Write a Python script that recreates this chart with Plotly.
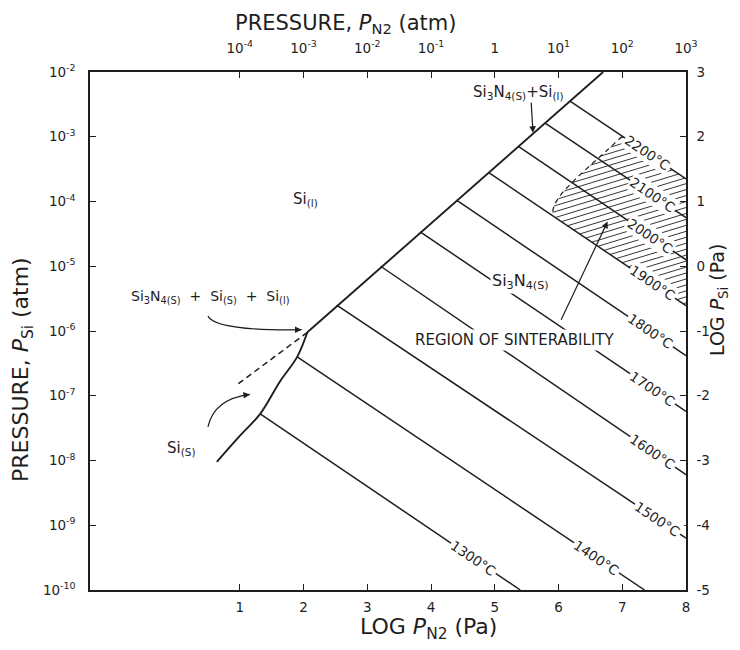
import numpy as np
import plotly.graph_objects as go

# ---------------- data ----------------
# x = log P_N2 (Pa), y = log P_Si (Pa)
iso_temps = [1300, 1400, 1500, 1600, 1700, 1800, 1900, 2000, 2100, 2200]
iso_x0 = [1.32, 1.90, 2.52, 3.21, 3.83, 4.40, 4.90, 5.37, 5.79, 6.18]
iso_y0 = [-2.28, -1.40, -0.60, 0.00, 0.53, 1.02, 1.45, 1.85, 2.21, 2.55]
iso_x1 = [5.40, 7.35, 8.00, 8.00, 8.00, 8.00, 8.00, 8.00, 8.00, 8.00]
iso_y1 = [-5.00, -5.00, -4.20, -3.22, -2.24, -1.38, -0.61, 0.10, 0.75, 1.35]

# Si(s) / Si3N4(s) boundary
si_solid_x = [0.64, 1.00, 1.32, 1.63, 1.90, 2.06]
si_solid_y = [-3.02, -2.62, -2.28, -1.78, -1.40, -1.02]
# Si(l) / Si3N4(s) boundary
si_liquid_x = [2.06, 6.70]
si_liquid_y = [-1.02, 3.00]
# metastable extension (dashed)
meta_x = [2.06, 0.97]
meta_y = [-1.02, -1.82]
# left (dashed) border of the region of sinterability
sinter_x = [7.00, 6.75, 6.50, 6.25, 6.05, 5.93, 5.90]
sinter_y = [2.01, 1.78, 1.56, 1.33, 1.12, 0.93, 0.79]

x_ticks = [1, 2, 3, 4, 5, 6, 7, 8]
x_top_text = ["10<sup>-4</sup>", "10<sup>-3</sup>", "10<sup>-2</sup>", "10<sup>-1</sup>",
              "1", "10<sup>1</sup>", "10<sup>2</sup>", "10<sup>3</sup>"]
y_ticks = [-5, -4, -3, -2, -1, 0, 1, 2, 3]
y_left_text = ["10<sup>-10</sup>", "10<sup>-9</sup>", "10<sup>-8</sup>", "10<sup>-7</sup>",
               "10<sup>-6</sup>", "10<sup>-5</sup>", "10<sup>-4</sup>", "10<sup>-3</sup>",
               "10<sup>-2</sup>"]
y_right_text = ["-5", "-4", "-3", "-2", "-1", "0", "1", "2", "3"]

# ---------------- layout geometry ----------------
OFF = 8                      # page body margin of the html page
W, H = 740 - 2 * OFF, 650 - 2 * OFF
PL, PR, PT, PB = 90, 686, 72, 590     # wanted plot box on screen
ML, MR, MT, MB = PL - OFF, W - (PR - OFF), PT - OFF, H - (PB - OFF)
XR = [-1.35, 8.0]
YR = [-5.0, 3.0]
pw, ph = PR - PL, PB - PT
sx = pw / (XR[1] - XR[0])
sy = ph / (YR[1] - YR[0])

FONT = "DejaVu Sans, sans-serif"
INK = "#1e1e1e"

fig = go.Figure()

# isotherms
ix, iy = [], []
for a, b, c, d in zip(iso_x0, iso_y0, iso_x1, iso_y1):
    ix += [a, c, None]
    iy += [b, d, None]
fig.add_trace(go.Scatter(x=ix, y=iy, mode="lines", line=dict(color=INK, width=1.5),
                         hoverinfo="skip", showlegend=False))

# hatch of region of sinterability (polygon: dashed arc, 1900 C line, axis, 2200 C line)
poly = list(zip(sinter_x, sinter_y)) + [(iso_x1[6], iso_y1[6]), (iso_x1[9], iso_y1[9])]
slope = 0.30
hx, hy = [], []
ys = [p[1] - slope * p[0] for p in poly]
c = min(ys) + 0.045
while c < max(ys):
    xs = []
    n = len(poly)
    for i in range(n):
        (x1, y1), (x2, y2) = poly[i], poly[(i + 1) % n]
        f1 = y1 - slope * x1 - c
        f2 = y2 - slope * x2 - c
        if (f1 > 0) != (f2 > 0):
            t = f1 / (f1 - f2)
            xs.append(x1 + t * (x2 - x1))
    xs.sort()
    for k in range(0, len(xs) - 1, 2):
        hx += [xs[k], xs[k + 1], None]
        hy += [slope * xs[k] + c, slope * xs[k + 1] + c, None]
    c += 0.092
fig.add_trace(go.Scatter(x=hx, y=hy, mode="lines", line=dict(color=INK, width=0.9),
                         hoverinfo="skip", showlegend=False))

# phase boundaries
fig.add_trace(go.Scatter(x=si_solid_x, y=si_solid_y, mode="lines",
                         line=dict(color=INK, width=1.9, shape="spline", smoothing=1.0),
                         hoverinfo="skip", showlegend=False))
fig.add_trace(go.Scatter(x=si_liquid_x, y=si_liquid_y, mode="lines",
                         line=dict(color=INK, width=1.9), hoverinfo="skip", showlegend=False))
fig.add_trace(go.Scatter(x=meta_x, y=meta_y, mode="lines",
                         line=dict(color=INK, width=1.5, dash="6px,4px"),
                         hoverinfo="skip", showlegend=False))
fig.add_trace(go.Scatter(x=sinter_x, y=sinter_y, mode="lines",
                         line=dict(color=INK, width=1.2, dash="5px,4px", shape="spline"),
                         hoverinfo="skip", showlegend=False))

# dummy trace for the secondary axes
fig.add_trace(go.Scatter(x=[XR[0]], y=[YR[0]], xaxis="x2", yaxis="y2", mode="markers",
                         marker=dict(opacity=0), hoverinfo="skip", showlegend=False))

ann = []
# isotherm labels, rotated along the lines
label_pos = [4.66, 6.60, 7.55, 7.48, 7.48, 7.44, 7.48, 7.44, 7.48, 7.40]
for T, a, b, c2, d, lx in zip(iso_temps, iso_x0, iso_y0, iso_x1, iso_y1, label_pos):
    ly = b + (d - b) * (lx - a) / (c2 - a)
    ang = np.degrees(np.arctan(-(d - b) / (c2 - a) * sy / sx))
    ann.append(dict(x=lx, y=ly, xref="x", yref="y", text=f"{T}°C", showarrow=False,
                    textangle=ang, font=dict(family=FONT, size=13.5, color=INK),
                    bgcolor="white", borderpad=1))

def txt(x, y, t, size=13, bg=None):
    d = dict(x=x, y=y, xref="x", yref="y", text=t, showarrow=False,
             xanchor="center", yanchor="middle",
             font=dict(family=FONT, size=size, color=INK))
    if bg:
        d["bgcolor"] = bg
        d["borderpad"] = 1
    ann.append(d)

txt(2.03, 1.03, "Si<sub>(l)</sub>", size=15)
txt(5.37, 2.68, "Si<sub>3</sub>N<sub>4(S)</sub>+Si<sub>(l)</sub>", size=15)
txt(0.53, -0.47, "Si<sub>3</sub>N<sub>4(S)</sub>  +  Si<sub>(S)</sub>  +  Si<sub>(l)</sub>", size=14)
txt(0.08, -2.82, "Si<sub>(S)</sub>", size=15)
txt(5.40, -0.24, "Si<sub>3</sub>N<sub>4(S)</sub>", size=16, bg="white")
txt(5.31, -1.14, "REGION OF SINTERABILITY", size=15, bg="white")

def arrow(x, y, ax, ay):
    ann.append(dict(x=x, y=y, ax=ax, ay=ay, xref="x", yref="y", axref="x", ayref="y",
                    text="", showarrow=True, arrowhead=2, arrowsize=1.1, arrowwidth=1.2,
                    arrowcolor=INK))

# straight arrows
arrow(5.60, 2.06, 5.57, 2.55)
arrow(6.77, 0.69, 6.03, -0.85)

# curved arrows (quadratic paths + arrowheads)
shapes = []
def curved(x0, y0, cx, cy, x1, y1):
    shapes.append(dict(type="path", xref="x", yref="y",
                       path=f"M {x0},{y0} Q {cx},{cy} {x1},{y1}",
                       line=dict(color=INK, width=1.2)))
    tx, ty = x1 - cx, y1 - cy
    n = np.hypot(tx * sx, ty * sy)
    k = 8.0 / n
    arrow(x1, y1, x1 - tx * k, y1 - ty * k)

curved(0.50, -0.77, 0.62, -1.00, 1.97, -0.98)
curved(0.50, -2.48, 0.60, -2.05, 1.16, -1.98)

# axis titles (positions given in screen pixels)
def paper_x(px):
    return (px - PL) / pw

def paper_y(py):
    return (PB - py) / ph

def title(px, py, t, angle=0, size=22):
    ann.append(dict(x=paper_x(px), y=paper_y(py), xref="paper", yref="paper",
                    xanchor="center", yanchor="middle", showarrow=False,
                    text=t, textangle=angle, font=dict(family=FONT, size=size, color=INK)))

title(345, 24, "PRESSURE, <i>P</i><sub>N2</sub> (atm)", size=21)
title(428, 628, "LOG <i>P</i><sub>N2</sub> (Pa)")
title(22, 370, "PRESSURE, <i>P</i><sub>Si</sub> (atm)", -90)
title(718, 300, "LOG <i>P</i><sub>Si</sub> (Pa)", -90, size=19)

TICKF = dict(family=FONT, size=13.5, color=INK)
axis_common = dict(showgrid=False, zeroline=False, showline=True, linecolor=INK, linewidth=1.6,
                   ticks="inside", ticklen=6, tickwidth=1.2, tickcolor=INK, tickfont=TICKF)

fig.update_layout(
    width=W, height=H, autosize=False,
    margin=dict(l=ML, r=MR, t=MT, b=MB),
    paper_bgcolor="white", plot_bgcolor="white",
    xaxis=dict(range=XR, tickvals=x_ticks, ticktext=[str(v) for v in x_ticks],
               ticklabelstandoff=4, **axis_common),
    xaxis2=dict(range=XR, overlaying="x", side="top", tickvals=x_ticks, ticktext=x_top_text,
                ticklabelstandoff=12, **axis_common),
    yaxis=dict(range=YR, tickvals=y_ticks, ticktext=y_left_text, ticklabelstandoff=10,
               **axis_common),
    yaxis2=dict(range=YR, overlaying="y", side="right", tickvals=y_ticks, ticktext=y_right_text,
                ticklabelstandoff=6, **axis_common),
    annotations=ann,
    shapes=shapes,
    showlegend=False,
)

fig.write_html("out.html")
